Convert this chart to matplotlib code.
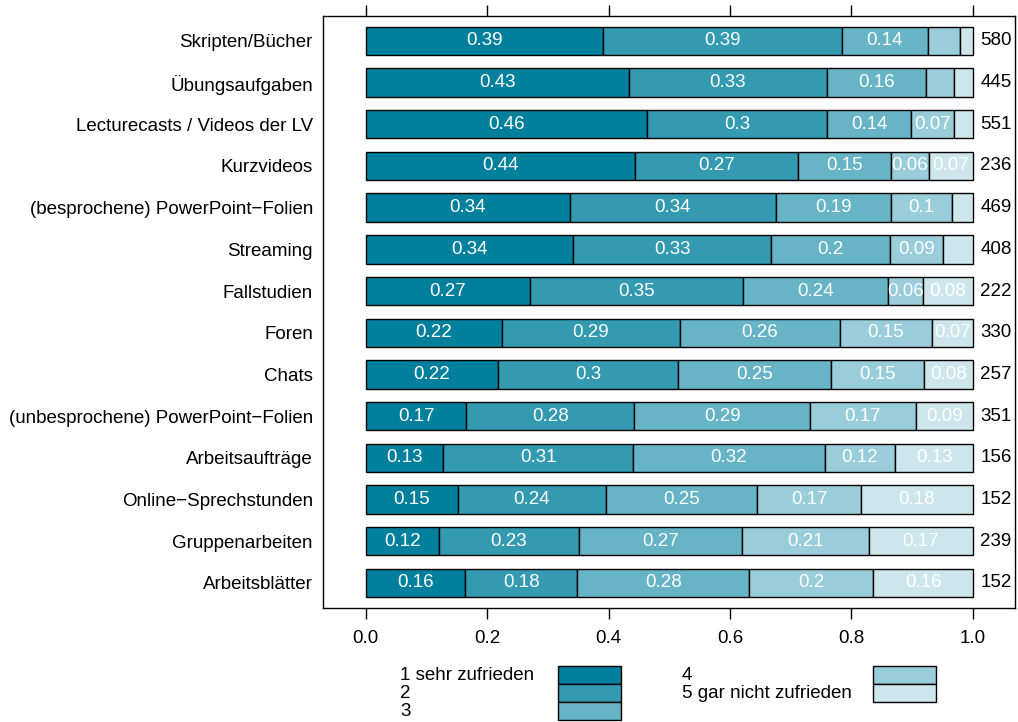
import matplotlib.pyplot as plt
from matplotlib.patches import Rectangle
import numpy as np

plt.rcParams['font.family'] = ['Liberation Sans', 'DejaVu Sans']

# Kategorien (oben nach unten)
items = ["Skripten/Bücher", "Übungsaufgaben", "Lecturecasts / Videos der LV",
         "Kurzvideos", "(besprochene) PowerPoint\u2212Folien", "Streaming",
         "Fallstudien", "Foren", "Chats", "(unbesprochene) PowerPoint\u2212Folien",
         "Arbeitsaufträge", "Online\u2212Sprechstunden", "Gruppenarbeiten",
         "Arbeitsblätter"]

# Anteile je Antwortstufe
s1 = [0.390, 0.433, 0.463, 0.444, 0.336, 0.341, 0.270, 0.224, 0.218, 0.166, 0.128, 0.152, 0.120, 0.164]
s2 = [0.394, 0.326, 0.297, 0.268, 0.339, 0.327, 0.351, 0.293, 0.296, 0.276, 0.312, 0.243, 0.231, 0.184]
s3 = [0.142, 0.164, 0.138, 0.153, 0.190, 0.196, 0.239, 0.264, 0.253, 0.290, 0.316, 0.250, 0.268, 0.284]
s4 = [0.053, 0.046, 0.071, 0.063, 0.100, 0.086, 0.058, 0.151, 0.152, 0.174, 0.116, 0.171, 0.210, 0.204]
s5 = [0.021, 0.031, 0.031, 0.072, 0.035, 0.050, 0.082, 0.068, 0.081, 0.094, 0.128, 0.184, 0.171, 0.164]
counts = [580, 445, 551, 236, 469, 408, 222, 330, 257, 351, 156, 152, 239, 152]

levels = ["1 sehr zufrieden", "2", "3", "4", "5 gar nicht zufrieden"]
colors = ["#00809d", "#339ab2", "#66b4c6", "#99cdd9", "#cce6eb"]

fs = 13.5

fig = plt.figure(figsize=(10.18, 7.22), dpi=100)
ax = fig.add_axes([0.317, 0.158, 0.680, 0.820])

y = np.arange(len(items))
left = np.zeros(len(items))
for vals, col in zip([s1, s2, s3, s4, s5], colors):
    vals = np.array(vals)
    ax.barh(y, vals, left=left, height=0.68, color=col, edgecolor="black", linewidth=1)
    for yi, (l, v) in enumerate(zip(left, vals)):
        if v >= 0.055:
            ax.text(l + v / 2, yi, f"{round(v, 2):g}", color="white",
                    ha="center", va="center", fontsize=fs)
    left = left + vals

for yi, n in enumerate(counts):
    ax.text(1.012, yi, str(n), ha="left", va="center", fontsize=fs)

ax.set_xlim(-0.0708, 1.0692)
ax.set_ylim(len(items) - 0.4, -0.6)
ax.set_yticks(y)
ax.set_yticklabels(items, fontsize=fs)
ax.tick_params(axis="y", length=0, pad=7)
ax.set_xticks([0, 0.2, 0.4, 0.6, 0.8, 1.0])
ax.set_xticklabels(["0.0", "0.2", "0.4", "0.6", "0.8", "1.0"], fontsize=fs)
ax.tick_params(axis="x", top=True, bottom=True, labeltop=False, direction="out",
               length=8, width=1, pad=8)
for sp in ax.spines.values():
    sp.set_linewidth(1)

# Legende unten
W, H = 1018, 722
def fx(px):
    return px / W
def fy(py):
    return 1 - py / H

box_h = 18
cols = [(400, 558, levels[:3], colors[:3]), (682, 873, levels[3:], colors[3:])]
for tx, bx, labs, cols_ in cols:
    for i, (lab, col) in enumerate(zip(labs, cols_)):
        top = 666 + i * box_h
        fig.patches.append(Rectangle((fx(bx), fy(top + box_h)), fx(63), box_h / H,
                                     transform=fig.transFigure, facecolor=col,
                                     edgecolor="black", linewidth=1))
        fig.text(fx(tx), fy(top + box_h / 2), lab, ha="left", va="center", fontsize=fs)

fig.savefig("out.png", dpi=100)
